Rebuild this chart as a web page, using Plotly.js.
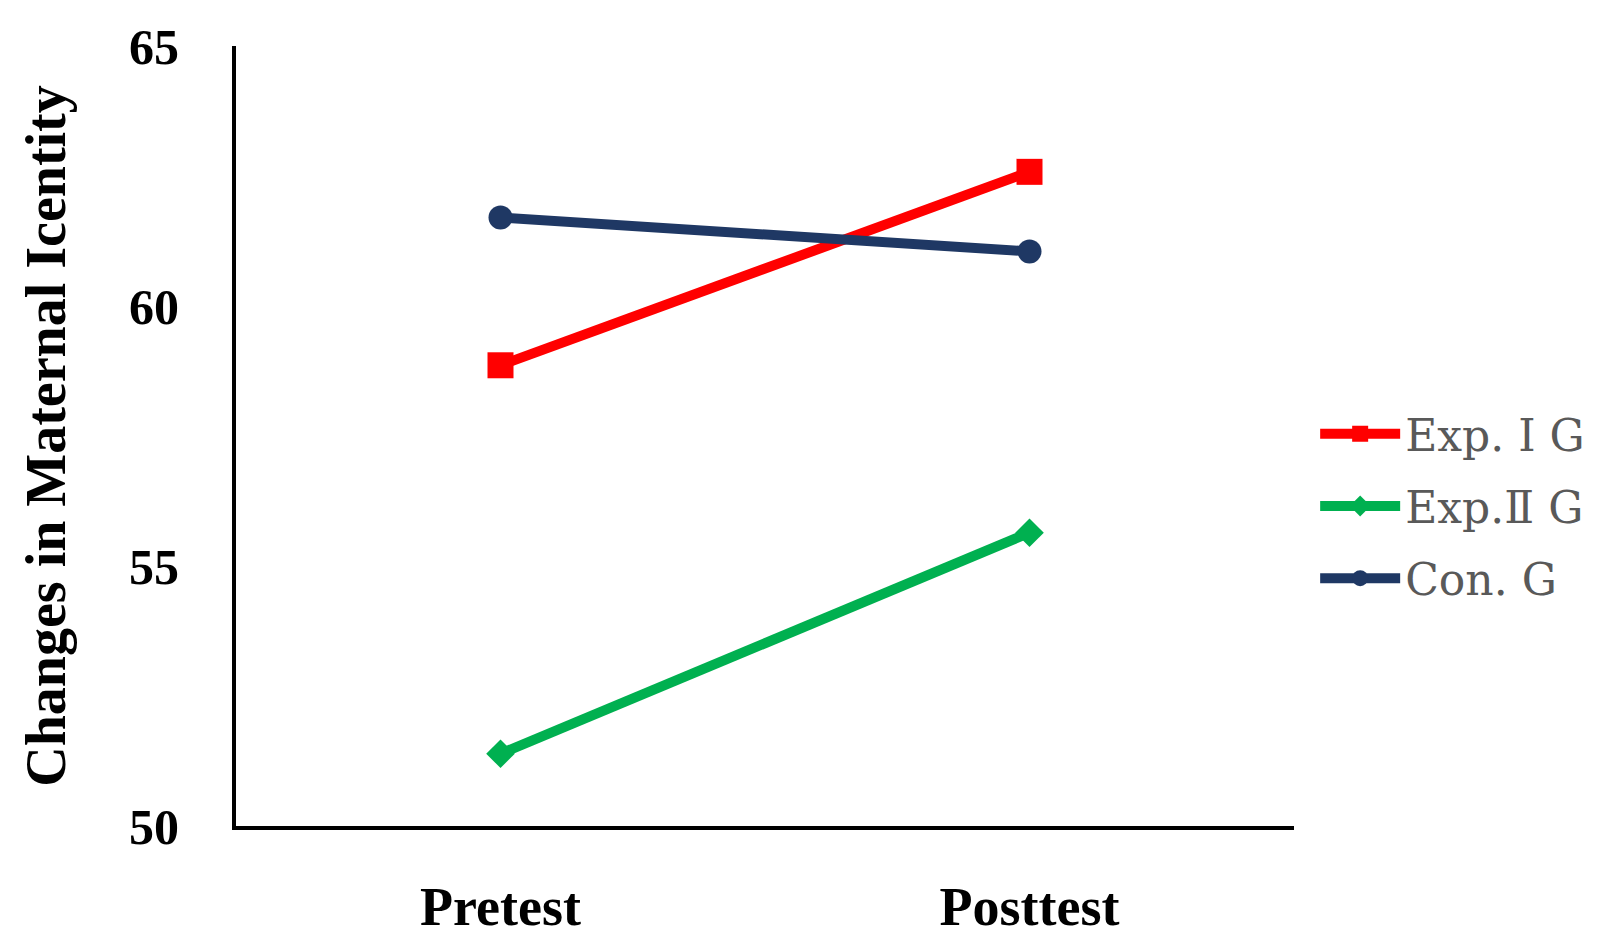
<!DOCTYPE html>
<html>
<head>
<meta charset="utf-8">
<script src="https://cdn.plot.ly/plotly-3.0.1.min.js"></script>
<style>html,body{margin:0;padding:0;background:#fff;}#chart{width:1620px;height:942px;}</style>
</head>
<body>
<div id="chart"></div>
<script>
const categories = ["Pretest", "Posttest"];
const seriesNames = ["Exp. Ⅰ G", "Exp.Ⅱ G", "Con. G"];
const expI = [58.86, 62.58];
const expII = [51.39, 55.64];
const con = [61.70, 61.05];
const yTickVals = [50, 55, 60, 65];
const yTickText = ["50", "55", "60", "65"];
const yTitle = "Changes in Maternal Icentity";

const serif = "Liberation Serif, Times New Roman, Noto Sans CJK SC, serif";
const legendSerif = "DejaVu Serif, Liberation Serif, Noto Sans CJK SC, serif";

const traces = [
  {x: categories, y: expI, name: seriesNames[0], type: "scatter", mode: "lines+markers",
   legendgroup: "a",
   line: {color: "#FF0000", width: 10},
   marker: {symbol: "square", size: 26, color: "#FF0000"}},
  {x: categories, y: expII, name: seriesNames[1], type: "scatter", mode: "lines+markers",
   legendgroup: "b",
   line: {color: "#00B050", width: 10},
   marker: {symbol: "diamond", size: 22, color: "#00B050"}},
  {x: categories, y: con, name: seriesNames[2], type: "scatter", mode: "lines+markers",
   legendgroup: "c",
   line: {color: "#1F3864", width: 10},
   marker: {symbol: "circle", size: 24, color: "#1F3864"}}
];

const layout = {
  width: 1620, height: 942,
  margin: {l: 236, r: 326, t: 46, b: 116},
  paper_bgcolor: "#ffffff", plot_bgcolor: "#ffffff",
  showlegend: true,
  legend: {
    x: 1.02, xanchor: "left", y: 0.41, yanchor: "middle",
    font: {family: legendSerif, size: 44, color: "#595959"},
    itemwidth: 80, tracegroupgap: 12, bgcolor: "rgba(0,0,0,0)"
  },
  xaxis: {
    type: "category", range: [-0.5, 1.5],
    showline: true, linecolor: "#000000", linewidth: 4,
    showgrid: false, zeroline: false, ticks: "",
    ticklabelstandoff: 30,
    tickfont: {family: serif, size: 54, color: "#000000", weight: "bold"},
    fixedrange: true
  },
  yaxis: {
    range: [50, 65], tickvals: yTickVals, ticktext: yTickText,
    showline: true, linecolor: "#000000", linewidth: 4,
    showgrid: false, zeroline: false, ticks: "",
    ticklabelstandoff: 43,
    tickfont: {family: serif, size: 50, color: "#000000", weight: "bold"},
    title: {text: yTitle, standoff: 46, font: {family: serif, size: 56, color: "#000000", weight: "bold"}},
    fixedrange: true
  }
};

Plotly.newPlot("chart", traces, layout, {displayModeBar: false, staticPlot: true});
</script>
</body>
</html>
